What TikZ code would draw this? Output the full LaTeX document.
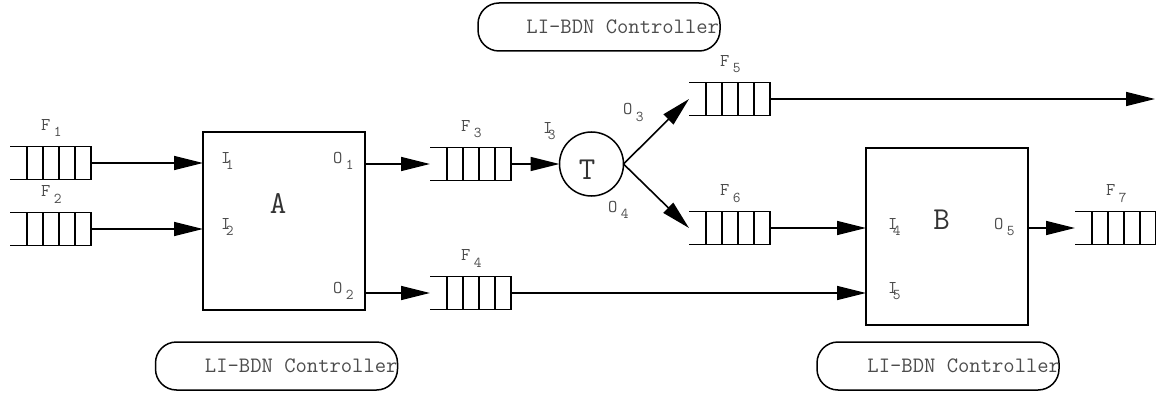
\documentclass[tikz,border=0pt]{standalone}
\usepackage{fontspec}
\usetikzlibrary{arrows.meta}
\definecolor{txt}{gray}{0.3}
\definecolor{bigtxt}{gray}{0.2}
\newcommand\mainsz{\fontsize{18}{18}\selectfont}
\newcommand\subsz{\fontsize{15}{15}\selectfont}
\newcommand\plab[2]{{\mainsz #1}\hspace{3.5pt}\raisebox{-6.5pt}{\subsz #2}}
\newcommand\ilab[1]{{\mainsz I}\hspace{-4.5pt}\raisebox{-6.5pt}{\subsz #1}}
\tikzset{
  line/.style={line width=1.6pt, draw=black},
  arr/.style={line, -{Triangle[length=29pt,width=14pt]}},
  qbox/.style={minimum width=81pt, minimum height=33pt, inner sep=0pt, outer sep=0pt},
  qline/.style={line width=1.8pt, draw=black},
  blk/.style={draw=black, line width=1.8pt, inner sep=0pt, outer sep=0pt},
  port/.style={anchor=base west, inner sep=0pt, text=txt, font=\ttfamily},
  big/.style={anchor=base, inner sep=0pt, text=bigtxt, font=\ttfamily\fontsize{32}{32}\selectfont},
  ctrl/.style={draw=black, line width=1.5pt, rounded corners=21pt, minimum width=242pt, minimum height=48pt, inner sep=0pt},
  ctext/.style={anchor=west, inner sep=0pt, text=txt, font=\ttfamily\fontsize{22}{22}\selectfont},
}
\newcommand\queue[4]{% name, left x, centre y, subscript
  \node[qbox] (#1) at (#2+40.5,#3) {};
  \draw[qline] (#1.north west) -- (#1.north east) -- (#1.south east) -- (#1.south west);
  \foreach \k in {17,33,49,65} {\draw[qline] ([xshift=\k pt]#1.north west) -- ([xshift=\k pt]#1.south west);}
  \node[port] (#1lab) at ([xshift=31pt,yshift=16pt]#1.north west) {\plab{F}{#4}};
}
\begin{document}
\begin{tikzpicture}[x=1pt,y=-1pt]
\path[use as bounding box] (0,0) rectangle (1156,393);

% queues
\queue{F1}{10}{163}{1}
\queue{F2}{10}{229}{2}
\queue{F3}{430}{164}{3}
\queue{F4}{430}{293}{4}
\queue{F5}{689}{99}{5}
\queue{F6}{689}{228}{6}
\queue{F7}{1075}{228}{7}

% blocks
\node[blk, minimum width=162pt, minimum height=178pt] (A) at (284,221) {};
\node[blk, minimum width=162pt, minimum height=177pt] (B) at (947,236.5) {};
\node[draw=black, line width=1.5pt, circle, minimum size=64pt, inner sep=0pt, outer sep=0pt] (T) at (591.5,164) {};

\node[big] (Alab) at (278,213) {A};
\node[big] (Blab) at (941.5,229) {B};
\node[big] (Tlab) at (587,179) {T};

% port labels
\node[port] (i1) at (221,163) {\ilab{1}};
\node[port] (i2) at (221,229) {\ilab{2}};
\node[port] (o1) at (333,163) {\plab{O}{1}};
\node[port] (o2) at (333,293) {\plab{O}{2}};
\node[port] (i3) at (543,133) {\ilab{3}};
\node[port] (o3) at (623,115) {\plab{O}{3}};
\node[port] (o4) at (608,212) {\plab{O}{4}};
\node[port] (i4) at (888,229) {\ilab{4}};
\node[port] (i5) at (888,293) {\ilab{5}};
\node[port] (o5) at (994,229) {\plab{O}{5}};

% connectors
\coordinate (out5) at (1155,99);
\draw[arr] (F1.east) -- (F1.east -| A.west);
\draw[arr] (F2.east) -- (F2.east -| A.west);
\draw[arr] (F3.west -| A.east) -- (F3.west);
\draw[arr] (F4.west -| A.east) -- (F4.west);
\draw[arr] (F3.east) -- (F3.east -| T.west);
\draw[arr] (T.east) -- (F5.west);
\draw[arr] (T.east) -- (F6.west);
\draw[arr] (F5.east) -- (out5);
\draw[arr] (F6.east) -- (F6.east -| B.west);
\draw[arr] (F4.east) -- (F4.east -| B.west);
\draw[arr] (F7.west -| B.east) -- (F7.west);

% controllers
\node[ctrl] (C1) at (599,27) {};
\node[ctext] (C1t) at ([xshift=49pt]C1.west) {LI-BDN Controller};
\node[ctrl] (C2) at (276.5,366) {};
\node[ctext] (C2t) at ([xshift=50pt]C2.west) {LI-BDN Controller};
\node[ctrl] (C3) at (938,366) {};
\node[ctext] (C3t) at ([xshift=51pt]C3.west) {LI-BDN Controller};
\end{tikzpicture}
\end{document}
